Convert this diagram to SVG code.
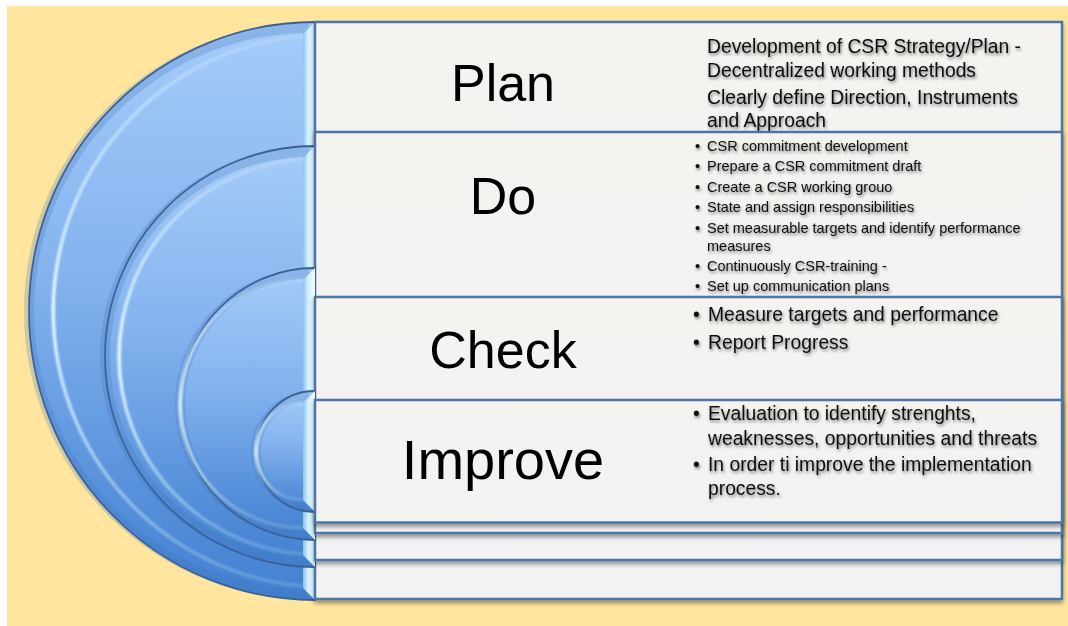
<svg xmlns="http://www.w3.org/2000/svg" width="1068" height="626" viewBox="0 0 1068 626">
<defs>
<linearGradient id="arcFill" x1="0" y1="0" x2="0" y2="1">
<stop offset="0" stop-color="#A6CCF9"/>
<stop offset="0.45" stop-color="#82B2EE"/>
<stop offset="1" stop-color="#4280D1"/>
</linearGradient>
<linearGradient id="bevel" x1="0" y1="0" x2="1" y2="0">
<stop offset="0" stop-color="#8FC0F2"/>
<stop offset="0.4" stop-color="#CDEFFF"/>
<stop offset="1" stop-color="#F4FDFF"/>
</linearGradient>
<linearGradient id="hl" x1="0" y1="0" x2="0" y2="1">
<stop offset="0" stop-color="#E2F7FF" stop-opacity="0.2"/>
<stop offset="0.5" stop-color="#E8FBFF" stop-opacity="1"/>
<stop offset="1" stop-color="#CDEFFF" stop-opacity="0.2"/>
</linearGradient>
<linearGradient id="boxFill" x1="0" y1="0" x2="0" y2="1">
<stop offset="0" stop-color="#F4F3F0"/>
<stop offset="1" stop-color="#F2F2F2"/>
</linearGradient>
<filter id="boxShadow" x="-5%" y="-5%" width="110%" height="115%">
<feDropShadow dx="0" dy="3" stdDeviation="2.2" flood-color="#000" flood-opacity="0.4"/>
</filter>
<filter id="txtShadow" x="-5%" y="-20%" width="110%" height="150%">
<feDropShadow dx="1" dy="2" stdDeviation="1.8" flood-color="#000" flood-opacity="0.5"/>
</filter>
<filter id="soft" x="-10%" y="-10%" width="120%" height="120%">
<feGaussianBlur stdDeviation="1"/>
</filter>
</defs>
<style>
.arc{fill:url(#arcFill);stroke:#3A5E90;stroke-width:1.8}
.band{fill:none;stroke:#3F73B8;stroke-opacity:0.25;stroke-width:10}
.bev{fill:url(#bevel)}
.hl{fill:none;stroke:url(#hl);stroke-width:3.5;filter:url(#soft)}
.box{fill:url(#boxFill);stroke:#4C74AA;stroke-width:2.5;filter:url(#boxShadow)}
.big{font-family:"Liberation Sans",Arial,sans-serif;font-size:52px;fill:#000;text-anchor:middle}
.t{font-family:"Liberation Sans",Arial,sans-serif;font-size:19.3px;fill:#111}
.s{font-family:"Liberation Sans",Arial,sans-serif;font-size:14.5px;fill:#111}
.rt{filter:url(#txtShadow)}
</style>
<rect x="0" y="0" width="1068" height="626" fill="#FFFFFF"/>
<rect x="7" y="6" width="1061" height="620" fill="#FFE59E"/>

<g id="plan">
<path class="arc" d="M315,22 A286,289 0 0 0 315,600 Z"/>
<path class="band" d="M309,28 A280,283 0 0 0 309,594"/>
<path class="hl" d="M303,36 A273,276 0 0 0 303,586"/>
<polygon class="bev" points="303,34 315,22 315,600 303,588"/>
<rect class="box" x="315" y="22" width="747" height="577"/>
<text class="big" x="503" y="101">Plan</text>
<g class="rt">
<text class="t" x="707" y="53">Development of CSR Strategy/Plan -</text>
<text class="t" x="707" y="77">Decentralized working methods</text>
<text class="t" x="707" y="104">Clearly define Direction, Instruments</text>
<text class="t" x="707" y="127">and Approach</text>
</g>
</g>

<g id="do">
<path class="arc" d="M315,146 A210,210.5 0 0 0 315,567 Z"/>
<path class="band" d="M309,152 A204,204.5 0 0 0 309,561"/>
<path class="hl" d="M303,159 A198,198 0 0 0 303,554"/>
<polygon class="bev" points="303,158 315,146 315,567 303,555"/>
<rect class="box" x="315" y="132" width="747" height="428"/>
<text class="big" x="503" y="214">Do</text>
<g class="rt">
<text class="s" x="695" y="150.5">•</text><text class="s" x="707" y="150.5">CSR commitment development</text>
<text class="s" x="695" y="171">•</text><text class="s" x="707" y="171">Prepare a CSR commitment draft</text>
<text class="s" x="695" y="191.5">•</text><text class="s" x="707" y="191.5">Create a CSR working grouo</text>
<text class="s" x="695" y="211.5">•</text><text class="s" x="707" y="211.5">State and assign responsibilities</text>
<text class="s" x="695" y="232.5">•</text><text class="s" x="707" y="232.5">Set measurable targets and identify performance</text>
<text class="s" x="707" y="251">measures</text>
<text class="s" x="695" y="271">•</text><text class="s" x="707" y="271">Continuously CSR-training -</text>
<text class="s" x="695" y="290.5">•</text><text class="s" x="707" y="290.5">Set up communication plans</text>
</g>
</g>

<g id="check">
<path class="arc" d="M315,268 A135,136 0 0 0 315,540 Z"/>
<path class="band" d="M309,274 A129,130 0 0 0 309,534"/>
<path class="hl" d="M303,280 A123,124 0 0 0 303,528"/>
<polygon class="bev" points="303,280 315,268 315,540 303,528"/>
<rect class="box" x="315" y="297" width="747" height="236"/>
<text class="big" x="503" y="368">Check</text>
<g class="rt">
<text class="t" x="693" y="321">•</text><text class="t" x="708" y="321">Measure targets and performance</text>
<text class="t" x="693" y="349">•</text><text class="t" x="708" y="349">Report Progress</text>
</g>
</g>

<g id="improve">
<path class="arc" d="M315,391 A59,60.5 0 0 0 315,512 Z"/>
<path class="band" d="M309,397 A53,54.5 0 0 0 309,506"/>
<path class="hl" d="M303,403 A47,48.5 0 0 0 303,500"/>
<polygon class="bev" points="303,403 315,391 315,512 303,500"/>
<rect class="box" x="315" y="400" width="747" height="122.5"/>
<text class="big" x="503" y="479" style="font-size:56px">Improve</text>
<g class="rt">
<text class="t" x="693" y="420">•</text><text class="t" x="708" y="420">Evaluation to identify strenghts,</text>
<text class="t" x="708" y="444.5">weaknesses, opportunities and threats</text>
<text class="t" x="693" y="471">•</text><text class="t" x="708" y="471">In order ti improve the implementation</text>
<text class="t" x="708" y="495">process.</text>
</g>
</g>

<g id="connectors"></g>
</svg>
